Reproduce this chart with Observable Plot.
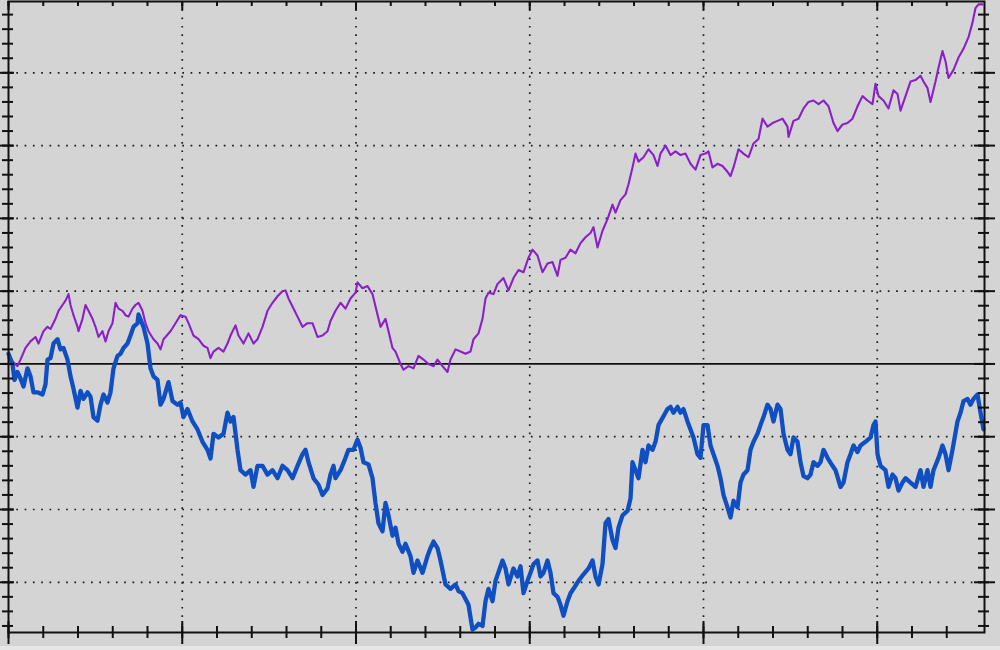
<!DOCTYPE html>
<html><head><meta charset="utf-8">
<script src="https://cdn.jsdelivr.net/npm/d3@7"></script>
<script src="https://cdn.jsdelivr.net/npm/@observablehq/plot@0.6"></script>
<style>
html,body{margin:0;padding:0;background:#d4d4d4;}
#chart svg{display:block;}
</style></head><body><div id="chart"></div>
<script>
// Series 1 (purple, thin) — time step, value
const purpleX = [0,2,9,12,17,22,27,30,35,39,42,47,50,54,57,60,62,65,69,70,74,77,80,84,87,90,94,97,100,104,107,110,114,117,120,124,127,130,134,137,140,145,149,152,155,
157,162,167,172,177,180,185,190,195,199,202,205,210,215,219,222,227,230,235,240,245,249,254,259,264,269,274,277,280,284,289,294,299,304,309,314,319,322,
327,332,337,342,347,349,354,359,364,367,372,377,380,384,387,392,395,400,405,410,415,420,425,429,434,439,442,447,452,457,462,465,470,474,477,480,485,489,
495,500,505,510,515,520,524,529,534,539,544,549,552,557,562,567,572,577,582,585,589,594,599,604,607,612,617,620,624,627,630,635,640,645,649,652,
657,662,667,672,677,682,687,692,697,700,704,709,714,719,722,725,730,735,740,745,750,754,759,764,769,774,779,780,785,790,795,800,805,810,815,820,
825,829,834,839,844,849,854,859,864,867,870,875,880,885,889,892,897,902,907,912,915,919,922,927,930,934,937,940,945,950,955,960,964,967,970,974];
const purpleY = [0.08,0.06,-0.03,0.06,0.22,0.31,0.37,0.28,0.45,0.51,0.48,0.62,0.73,0.81,0.87,0.96,0.81,0.67,0.51,0.45,0.62,0.81,0.73,0.62,0.51,0.37,0.45,0.31,0.45,0.56,0.84,0.76,0.73,0.67,0.65,0.76,0.81,0.84,0.73,0.56,0.45,0.34,0.28,0.2,0.34,
0.37,0.45,0.56,0.67,0.65,0.56,0.39,0.34,0.25,0.22,0.08,0.17,0.22,0.17,0.28,0.39,0.53,0.39,0.28,0.42,0.28,0.34,0.51,0.73,0.84,0.93,1.0,1.01,0.9,0.79,0.65,0.51,0.56,0.56,0.37,0.39,0.45,0.59,
0.73,0.84,0.76,0.9,0.98,1.12,1.04,1.07,0.96,0.79,0.51,0.62,0.45,0.22,0.17,0,-0.08,-0.03,-0.06,0.11,0.06,0,-0.03,0.06,-0.03,-0.11,0.06,0.2,0.17,0.14,0.17,0.34,0.42,0.62,0.9,0.98,0.96,1.1,
1.18,1.01,1.18,1.29,1.26,1.46,1.57,1.49,1.26,1.38,1.4,1.21,1.43,1.46,1.57,1.52,1.66,1.74,1.8,1.88,1.6,1.83,1.99,2.19,2.08,2.25,2.33,2.47,2.7,2.89,2.78,2.84,2.95,2.87,2.72,2.89,
3.0,2.87,2.92,2.87,2.89,2.75,2.67,2.87,2.89,2.92,2.7,2.75,2.72,2.64,2.58,2.7,2.95,2.89,2.84,3.03,3.09,3.37,3.26,3.31,3.34,3.37,3.26,3.12,3.34,3.37,3.51,3.6,3.62,3.57,3.62,3.54,
3.31,3.2,3.29,3.31,3.37,3.54,3.68,3.62,3.57,3.85,3.68,3.62,3.51,3.76,3.71,3.48,3.68,3.88,3.9,3.96,3.88,3.79,3.6,3.88,4.07,4.3,4.16,3.93,4.04,4.21,4.33,4.49,4.69,4.89,4.94,4.94];

// Series 2 (blue, thick)
const blueX = [0,4,6,9,12,15,19,22,25,29,34,37,39,42,45,49,52,55,59,62,65,69,72,75,79,82,85,89,92,95,99,102,105,109,112,115,119,122,125,129,130,135,139,142,145,149,152,155,
160,164,169,172,175,179,184,189,194,199,202,205,210,215,219,222,225,229,232,237,242,245,249,254,259,264,269,274,279,284,289,294,297,300,305,310,314,319,322,325,
327,332,337,340,345,349,352,355,360,364,367,370,374,377,380,384,387,390,394,397,402,405,409,414,419,422,425,429,432,437,442,447,450,454,457,460,464,467,470,474,477,480,484,487,
494,497,500,505,509,512,515,519,522,525,529,532,535,539,542,545,549,552,555,559,562,565,570,575,580,584,587,590,594,597,600,604,607,610,614,619,622,624,627,630,634,637,640,644,647,650,
659,662,665,669,672,675,679,682,685,689,692,695,699,702,705,709,712,715,719,722,725,729,732,735,739,742,745,749,752,755,759,762,765,769,772,775,779,782,785,789,792,795,799,802,805,809,812,815,819,
824,827,832,835,839,842,845,849,852,857,862,865,867,869,872,877,880,884,887,890,894,897,902,907,912,915,919,922,925,930,934,937,940,944,949,952,955,959,962,965,969,972,975];
const blueY = [0.14,0,-0.22,-0.11,-0.2,-0.31,-0.06,-0.17,-0.39,-0.39,-0.42,-0.28,0.06,0.08,0.28,0.34,0.2,0.22,0.06,-0.17,-0.34,-0.6,-0.37,-0.48,-0.39,-0.45,-0.73,-0.78,-0.56,-0.42,-0.53,-0.39,-0.06,0.11,0.14,0.22,0.28,0.39,0.51,0.56,0.68,0.51,0.28,-0.06,-0.17,-0.22,-0.56,-0.48,
-0.25,-0.51,-0.56,-0.53,-0.73,-0.62,-0.79,-0.9,-1.07,-1.18,-1.3,-0.96,-1.01,-0.96,-0.67,-0.79,-0.73,-1.18,-1.46,-1.52,-1.46,-1.69,-1.4,-1.4,-1.52,-1.46,-1.57,-1.4,-1.46,-1.57,-1.4,-1.24,-1.18,-1.35,-1.57,-1.66,-1.8,-1.71,-1.52,-1.4,
-1.57,-1.46,-1.29,-1.18,-1.18,-1.04,-1.15,-1.35,-1.38,-1.57,-1.91,-2.19,-2.3,-1.91,-2.08,-2.36,-2.25,-2.47,-2.58,-2.47,-2.64,-2.87,-2.7,-2.87,-2.64,-2.53,-2.44,-2.53,-2.7,-3.03,-3.09,-3.03,-3.12,-3.15,-3.23,-3.31,-3.65,-3.62,-3.57,-3.6,-3.26,-3.09,-3.26,-2.98,
-2.7,-2.81,-3.03,-2.81,-2.92,-2.78,-3.15,-2.98,-2.87,-2.75,-2.7,-2.92,-2.87,-2.7,-2.87,-3.15,-3.2,-3.31,-3.46,-3.26,-3.15,-3.09,-2.98,-2.89,-2.81,-2.7,-2.92,-3.03,-2.75,-2.19,-2.13,-2.42,-2.53,-2.25,-2.08,-2.02,-1.85,-1.35,-1.46,-1.57,-1.18,-1.35,-1.12,-1.18,-1.07,-0.84,
-0.62,-0.59,-0.67,-0.59,-0.67,-0.62,-0.79,-0.9,-1.01,-1.24,-1.29,-0.84,-0.84,-1.12,-1.24,-1.4,-1.57,-1.8,-1.97,-2.11,-1.88,-1.97,-1.63,-1.52,-1.46,-1.18,-1.07,-0.96,-0.84,-0.73,-0.56,-0.62,-0.79,-0.56,-0.62,-0.96,-1.18,-1.24,-1.01,-1.07,-1.35,-1.54,-1.57,-1.52,-1.35,-1.4,-1.35,-1.18,-1.29,
-1.4,-1.46,-1.69,-1.63,-1.35,-1.24,-1.12,-1.21,-1.12,-1.07,-1.01,-0.84,-0.79,-1.24,-1.4,-1.46,-1.69,-1.52,-1.57,-1.74,-1.63,-1.57,-1.63,-1.69,-1.46,-1.69,-1.46,-1.69,-1.46,-1.29,-1.12,-1.24,-1.46,-1.18,-0.79,-0.67,-0.51,-0.48,-0.56,-0.48,-0.42,-0.67,-0.9];

// Axes / grid definitions (no labels in the original)
const xDomain = [0, 976];
const yDomain = [-3.69, 4.98];
const majorX = [0, 173.75, 347.5, 521.25, 695, 868.75];
const gridX = [173.75, 347.5, 521.25, 695, 868.75];
const majorY = [-3, -2, -1, 0, 1, 2, 3, 4];
const gridY = [-3, -2, -1, 1, 2, 3, 4];

const minorX = d3.range(0, 28).map(k => k * 34.75);
const minorY = d3.range(-18, 25).map(k => k / 5);

const purple = purpleX.map((x, i) => ({x, y: purpleY[i]}));
const blue = blueX.map((x, i) => ({x, y: blueY[i]}));

const W = 1000, H = 650, mL = 8, mR = 16, mT = 1, mB = 18;
const iW = W - mL - mR, iH = H - mT - mB;
const dot = {stroke: "#1c1c1c", strokeWidth: 1.7, strokeDasharray: "1.7,6.6"};
const tk = {stroke: "#111", strokeWidth: 2};

const chart = Plot.plot({
  width: W, height: H,
  marginLeft: mL, marginRight: mR, marginTop: mT, marginBottom: mB,
  style: {background: "linear-gradient(#d4d4d4 0, #d4d4d4 646px, #e6e6e6 646px)", overflow: "visible"},
  x: {domain: xDomain, axis: null},
  y: {domain: yDomain, axis: null},
  marks: [
    Plot.ruleY(gridY, dot),
    Plot.ruleX(gridX, dot),
    Plot.ruleY([0], {stroke: "#111", strokeWidth: 1.8}),
    Plot.line(purple, {x: "x", y: "y", stroke: "#8a20c8", strokeWidth: 2.1, strokeLinejoin: "round"}),
    Plot.line(blue, {x: "x", y: "y", stroke: "#0f4fc2", strokeWidth: 4.3, strokeLinejoin: "round"}),
    Plot.frame({stroke: "#111", strokeWidth: 2}),
    // bottom ticks (straddling the axis)
    Plot.tickX(minorX, {...tk, insetTop: iH - 6, insetBottom: -6}),
    Plot.tickX(majorX, {...tk, insetTop: iH - 11, insetBottom: -12}),
    // top ticks (inward)
    Plot.tickX(minorX, {...tk, insetBottom: iH - 5}),
    Plot.tickX(majorX, {...tk, insetBottom: iH - 9}),
    // left ticks
    Plot.tickY(minorY, {...tk, insetLeft: -6, insetRight: iW - 5}),
    Plot.tickY(majorY, {...tk, insetLeft: -8, insetRight: iW - 6}),
    // right ticks
    Plot.tickY(minorY, {...tk, insetLeft: iW - 6, insetRight: -5}),
    Plot.tickY(majorY, {...tk, insetLeft: iW - 10, insetRight: -11})
  ]
});
document.getElementById("chart").appendChild(chart);
</script>
</body></html>
